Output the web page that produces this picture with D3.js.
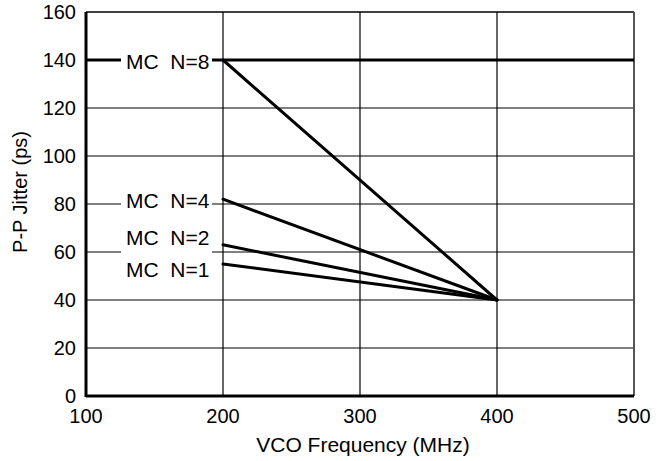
<!DOCTYPE html>
<html>
<head>
<meta charset="utf-8">
<script src="https://cdn.jsdelivr.net/npm/d3@7"></script>
<style>
  body { margin: 0; background: #fff; }
  text { font-family: "Liberation Sans", Arial, sans-serif; fill: #000; }
</style>
</head>
<body>
<div id="chart"></div>
<script>
// series: MC N = 1, 2, 4, 8  (x in MHz, y in ps)
var seriesNames = ["MC  N=8", "MC  N=4", "MC  N=2", "MC  N=1"];
var freqs = [200, 400];
var jitterN8 = [140, 40];
var jitterN4 = [82, 40];
var jitterN2 = [63, 40];
var jitterN1 = [55, 40];
var flatN8 = [140, 140]; // N=8 also runs flat at 140 across the whole plot
var flatFreqs = [100, 500];
var xTicks = [100, 200, 300, 400, 500];
var yTicks = [0, 20, 40, 60, 80, 100, 120, 140, 160];

var width = 666, height = 461;
var plotLeft = 86, plotRight = 634, plotTop = 12, plotBottom = 396;

var svg = d3.select("#chart").append("svg")
  .attr("width", width).attr("height", height);

var x = d3.scaleLinear().domain([100, 500]).range([plotLeft, plotRight]);
var y = d3.scaleLinear().domain([0, 160]).range([plotBottom, plotTop]);

// grid
svg.append("g").selectAll("line")
  .data(yTicks.slice(1, -1)).enter().append("line")
  .attr("x1", plotLeft).attr("x2", plotRight)
  .attr("y1", d => y(d)).attr("y2", d => y(d))
  .attr("stroke", "#000").attr("stroke-width", 1.2);
svg.append("g").selectAll("line")
  .data(xTicks.slice(1, -1)).enter().append("line")
  .attr("x1", d => x(d)).attr("x2", d => x(d))
  .attr("y1", plotTop).attr("y2", plotBottom)
  .attr("stroke", "#000").attr("stroke-width", 1.2);

// frame
svg.append("line").attr("x1", plotLeft).attr("x2", plotRight).attr("y1", plotTop).attr("y2", plotTop)
  .attr("stroke", "#000").attr("stroke-width", 1.5);
svg.append("line").attr("x1", plotRight).attr("x2", plotRight).attr("y1", plotTop).attr("y2", plotBottom)
  .attr("stroke", "#555").attr("stroke-width", 2);

var line = d3.line().x(d => x(d[0])).y(d => y(d[1]));
var lines = [jitterN8, jitterN4, jitterN2, jitterN1];

svg.append("path")
  .attr("d", line(d3.zip(flatFreqs, flatN8)))
  .attr("fill", "none").attr("stroke", "#000").attr("stroke-width", 3);

svg.selectAll(".series").data(lines).enter().append("path")
  .attr("class", "series")
  .attr("d", d => line(d3.zip(freqs, d)))
  .attr("fill", "none").attr("stroke", "#000").attr("stroke-width", 3)
  .attr("stroke-linecap", "round");

// labels with white boxes that break the grid lines
var labelCenters = [61, 200, 237, 269];
var lab = svg.append("g");
lab.selectAll("rect").data(labelCenters).enter().append("rect")
  .attr("x", 121).attr("width", 91)
  .attr("y", d => d - 12)
  .attr("height", (d, i) => i == 2 ? 28 : 24)
  .attr("fill", "#fff");
lab.selectAll("text").data(seriesNames).enter().append("text")
  .attr("x", 126).attr("y", (d, i) => labelCenters[i])
  .attr("dy", "0.36em")
  .style("font-size", "21px")
  .style("white-space", "pre")
  .text(d => d);

// axes (thick left and bottom)
svg.append("line").attr("x1", plotLeft).attr("x2", plotLeft).attr("y1", plotTop).attr("y2", plotBottom + 1)
  .attr("stroke", "#000").attr("stroke-width", 3);
svg.append("line").attr("x1", plotLeft).attr("x2", plotRight).attr("y1", plotBottom).attr("y2", plotBottom)
  .attr("stroke", "#000").attr("stroke-width", 3);

svg.selectAll(".ytick").data(yTicks).enter().append("text")
  .attr("class", "ytick")
  .attr("x", plotLeft - 10).attr("y", d => y(d))
  .attr("dy", "0.36em").attr("text-anchor", "end")
  .style("font-size", "20px")
  .text(d => d);

svg.selectAll(".xtick").data(xTicks).enter().append("text")
  .attr("class", "xtick")
  .attr("x", d => x(d)).attr("y", plotBottom + 27)
  .attr("text-anchor", "middle")
  .style("font-size", "20px")
  .text(d => d);

svg.append("text")
  .attr("x", (plotLeft + plotRight) / 2 + 3).attr("y", 452)
  .attr("text-anchor", "middle")
  .style("font-size", "21px")
  .text("VCO Frequency (MHz)");

svg.append("text")
  .attr("transform", "translate(27,192) rotate(-90)")
  .attr("text-anchor", "middle")
  .style("font-size", "20px")
  .text("P-P Jitter (ps)");
</script>
</body>
</html>
